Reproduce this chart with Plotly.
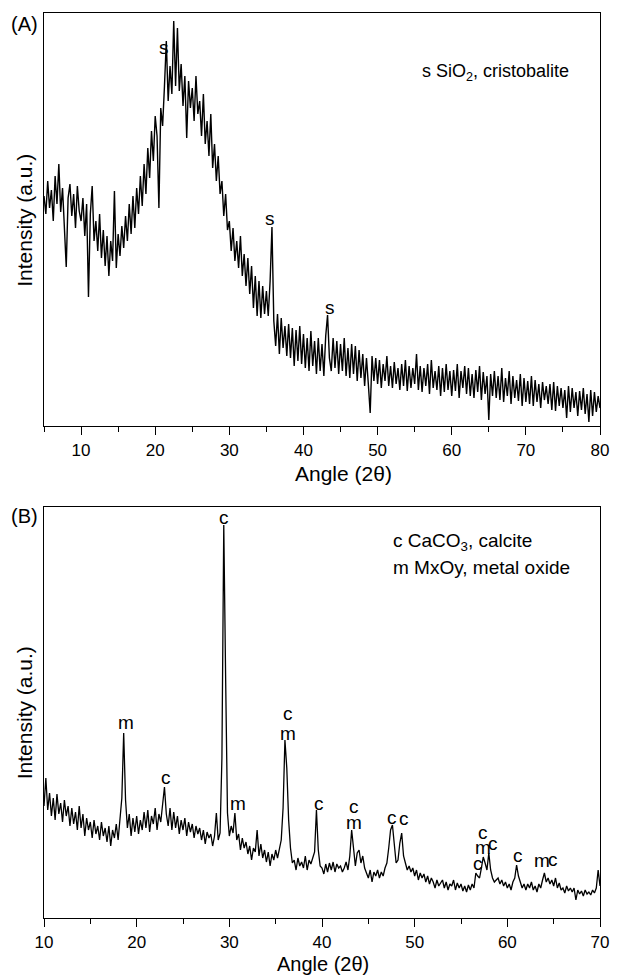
import numpy as np
import plotly.graph_objects as go

# ---------------- Panel A data (2theta 5..80, step 0.25) ----------------
a_start, a_step = 5.0, 0.25
a_intensity = [
    230, 212, 245, 218,  236, 205, 250, 222,  262, 214, 238, 200,  159, 228, 242, 210,
    232, 198, 240, 215,  205, 228, 190, 222,  129, 212, 240, 185,  205, 175, 212, 168,
    196, 160, 190, 150,  185, 165, 235, 158,  192, 170, 200, 178,  210, 185, 222, 192,
    230, 198, 238, 212,  250, 220, 262, 232,  278, 248, 295, 265,  310, 290, 218, 318,
    300, 340, 385, 325,  360, 332, 405, 340,  398, 335, 362, 320,  350, 288, 345, 318,
    338, 305, 350, 312,  325, 290, 332, 282,  305, 270, 312, 258,  282, 245, 270, 232,
    245, 210, 232, 196,  205, 175, 198, 165,  185, 158, 190, 150,  172, 140, 168, 132,
    160, 118, 150, 110,  145, 108, 140, 112,  135, 110, 145, 199,  105, 80, 112, 72,
    108, 78, 100, 70,    102, 68, 98, 60,     96, 65, 100, 62,     92, 58, 88, 55,
    95, 60, 85, 52,      88, 55, 82, 50,      90, 111, 68, 55,     88, 58, 85, 52,
    82, 55, 88, 50,      78, 48, 82, 52,      80, 45, 76, 48,      72, 40, 68, 42,
    13, 70, 45, 68,      42, 66, 38, 62,      45, 70, 40, 60,      38, 64, 42, 58,
    36, 62, 40, 66,      35, 60, 38, 58,      42, 72, 36, 60,      34, 58, 40, 62,
    32, 66, 38, 55,      36, 60, 30, 58,      34, 62, 36, 55,      30, 56, 35, 62,
    28, 55, 38, 60,      32, 58, 30, 52,      28, 56, 34, 60,      26, 54, 32, 50,
    6, 52, 30, 55,       28, 50, 26, 58,      24, 48, 30, 55,      22, 50, 28, 46,
    25, 52, 20, 48,      24, 45, 22, 50,      20, 46, 24, 42,      18, 44, 26, 40,
    22, 42, 16, 44,      15, 40, 20, 38,      18, 36, 8, 40,       14, 38, 18, 34,
    10, 35, 16, 38,      12, 32, 4, 36,       10, 34, 14, 30,
    18,
]
a_angle = a_start + a_step * np.arange(len(a_intensity))

# ---------------- Panel B data (2theta 10..70, step 0.2) ----------------
b_start, b_step = 10.0, 0.2
b_intensity = [
    112, 140, 108, 125, 102,   120, 98, 124, 104, 115,   96, 118, 102, 112, 92,
    110, 94, 106, 88, 112,     90, 104, 82, 100, 88,     96, 80, 98, 84, 92,
    78, 96, 82, 90, 76,        92, 72, 88, 80, 94,       78, 96, 120, 185, 118,
    90, 104, 82, 100, 86,      102, 84, 98, 88, 106,     90, 108, 86, 102, 94,
    110, 88, 104, 96, 112,     131, 104, 92, 110, 88,    106, 90, 102, 84, 98,
    88, 100, 82, 96, 86,       94, 80, 92, 84, 90,       78, 88, 74, 86, 80,
    84, 72, 82, 105, 78,       85, 160, 393, 240, 105,   82, 92, 85, 105, 78,
    84, 68, 80, 70, 76,        64, 72, 58, 70, 66,       88, 62, 74, 60, 68,
    56, 66, 52, 64, 58,        68, 60, 70, 78, 110,      178, 150, 98, 70, 55,
    58, 48, 60, 52, 56,        50, 62, 48, 58, 54,       60, 66, 108, 68, 52,
    50, 44, 54, 46, 55,        48, 56, 46, 54, 50,       52, 46, 50, 56, 48,
    62, 88, 70, 52, 65,        68, 55, 62, 50, 44,       40, 48, 36, 46, 42,
    48, 40, 46, 42, 50,        55, 70, 88, 93, 75,       55, 58, 75, 85, 62,
    55, 48, 52, 46, 50,        42, 48, 38, 45, 40,       44, 36, 42, 34, 40,
    36, 30, 38, 32, 35,        38, 30, 36, 28, 34,       32, 38, 28, 35, 30,
    34, 27, 32, 26, 33,        28, 34, 30, 45, 42,       40, 50, 61, 55, 48,
    65, 48, 40, 36, 38,        40, 34, 38, 32, 36,       30, 34, 28, 36, 40,
    53, 42, 36, 30, 34,        28, 34, 30, 36, 28,       32, 26, 34, 30, 38,
    45, 36, 40, 34, 38,        32, 40, 30, 35, 28,       30, 25, 32, 27, 30,
    26, 30, 18, 28, 24,        27, 22, 28, 24, 26,       23, 28, 25, 30, 48,
    32,
]
b_angle = b_start + b_step * np.arange(len(b_intensity))

# ---------------- peak labels ----------------
a_label_text = ["s", "s", "s"]
a_label_x = [21.2, 35.5, 43.6]
a_label_y = [379, 208, 119]

b_label_text = ["m", "c", "c", "m", "c", "m", "c", "c", "m", "c", "c",
                "c", "m", "c", "c", "c", "m", "c"]
b_label_x = [18.8, 23.2, 29.4, 30.9, 36.3, 36.3, 39.7, 43.5, 43.4, 47.6, 48.8,
             56.8, 57.4, 57.4, 58.5, 61.2, 63.7, 64.9]
b_label_y = [196, 141, 401, 115, 205, 185, 115, 112, 96, 101, 100,
             55, 71, 86, 75, 63, 58, 59]

FONT = "Arial, Liberation Sans, sans-serif"

fig = go.Figure()
fig.add_trace(go.Scatter(x=a_angle, y=a_intensity, mode="lines",
                         line=dict(color="black", width=1.4), xaxis="x", yaxis="y",
                         showlegend=False, hoverinfo="skip"))
fig.add_trace(go.Scatter(x=b_angle, y=b_intensity, mode="lines",
                         line=dict(color="black", width=1.3), xaxis="x2", yaxis="y2",
                         showlegend=False, hoverinfo="skip"))

axis_common = dict(showline=True, mirror=True, linecolor="black", linewidth=1.3,
                   showgrid=False, zeroline=False)
xcommon = dict(axis_common, ticks="outside", ticklen=8, tickwidth=1.2, tickcolor="black",
               tickmode="linear", tick0=0, dtick=10,
               tickfont=dict(family=FONT, size=17, color="black"),
               minor=dict(ticks="outside", ticklen=5, tickwidth=1.2, tickcolor="black",
                          tick0=0, dtick=5, showgrid=False))
ycommon = dict(axis_common, ticks="", showticklabels=False)

fig.update_layout(
    width=621, height=979,
    margin=dict(l=44, r=13, t=13, b=61),
    paper_bgcolor="white", plot_bgcolor="white",
    font=dict(family=FONT, color="black"),
    xaxis=dict(xcommon, domain=[0, 1], range=[5, 80], anchor="y"),
    yaxis=dict(ycommon, domain=[0.5436, 1], range=[0, 413], anchor="x"),
    xaxis2=dict(xcommon, domain=[0, 1], range=[10, 70], anchor="y2"),
    yaxis2=dict(ycommon, domain=[0, 0.4541], range=[0, 411], anchor="x2"),
)


def label(text, x, y, xref, yref, size, xanchor="center", angle=0):
    return dict(text=text, x=x, y=y, xref=xref, yref=yref, xanchor=xanchor,
                yanchor="middle", textangle=angle, showarrow=False,
                font=dict(size=size, family=FONT, color="black"))


ann = []
for t, x, y in zip(a_label_text, a_label_x, a_label_y):
    ann.append(label(t, x, y, "x", "y", 19))
for t, x, y in zip(b_label_text, b_label_x, b_label_y):
    ann.append(label(t, x, y, "x2", "y2", 19))

ann += [
    label("s SiO<sub>2</sub>, cristobalite", 0.6755, 0.855, "x domain", "y domain", 18, "left"),
    label("c CaCO<sub>3</sub>, calcite", 0.624, 0.915, "x2 domain", "y2 domain", 19, "left"),
    label("m MxOy, metal oxide", 0.624, 0.854, "x2 domain", "y2 domain", 19, "left"),
    label("Angle (2θ)", 0.539, 0.4917, "paper", "paper", 21),
    label("Angle (2θ)", 0.5018, -0.0508, "paper", "paper", 20),
    label("Intensity (a.u.)", -0.0346, 0.7713, "paper", "paper", 21, angle=-90),
    label("Intensity (a.u.)", -0.0346, 0.2271, "paper", "paper", 21, angle=-90),
    label("(A)", -0.0355, 0.9878, "paper", "paper", 20),
    label("(B)", -0.0355, 0.4442, "paper", "paper", 20),
]
fig.update_layout(annotations=ann)

fig.write_html("out.html")
